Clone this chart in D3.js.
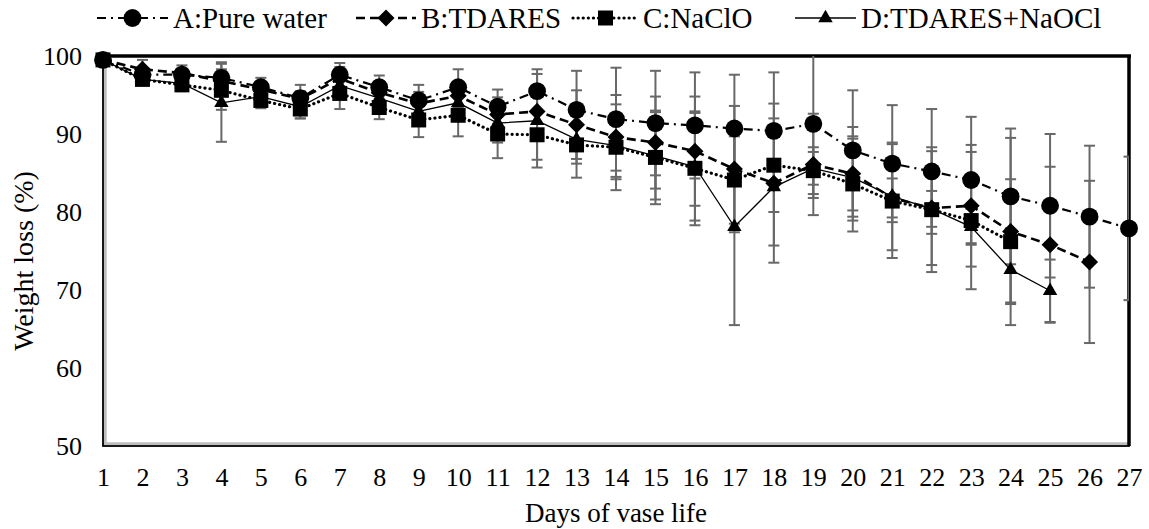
<!DOCTYPE html>
<html>
<head>
<meta charset="utf-8">
<script src="https://cdn.jsdelivr.net/npm/d3@7"></script>
<style>
  body { margin: 0; background: #fff; }
  svg text { font-family: "Liberation Serif", "Times New Roman", serif; fill: #000; }
</style>
</head>
<body>
<svg id="chart" width="1149" height="529"></svg>
<script>
const days = d3.range(1, 28);
const yTicks = [50, 60, 70, 80, 90, 100];

const seriesNames = ['A:Pure water', 'B:TDARES', 'C:NaClO', 'D:TDARES+NaOCl'];

const valuesA = [99.5, 97.6, 97.6, 97.2, 96.0, 94.6, 97.6, 96.0, 94.3, 96.0, 93.5, 95.5, 93.1, 91.9, 91.4, 91.1, 90.7, 90.4, 91.3, 87.9, 86.2, 85.2, 84.1, 82.0, 80.8, 79.4, 77.9];
const valuesB = [99.5, 98.3, 97.8, 96.8, 95.7, 94.5, 97.1, 95.3, 93.9, 94.9, 92.5, 92.9, 91.2, 89.6, 88.9, 87.8, 85.5, 83.7, 86.1, 84.9, 81.8, 80.5, 80.8, 77.5, 75.8, 73.6];
const valuesC = [99.5, 97.0, 96.3, 95.6, 94.3, 93.2, 95.2, 93.4, 91.8, 92.4, 90.0, 89.9, 88.6, 88.3, 87.0, 85.6, 84.1, 86.0, 85.3, 83.6, 81.4, 80.3, 78.9, 76.2];
const valuesD = [99.5, 97.0, 96.5, 94.0, 94.8, 93.5, 96.2, 94.6, 92.9, 94.0, 91.4, 91.7, 89.3, 88.5, 87.2, 85.8, 78.1, 83.2, 85.6, 84.4, 82.0, 80.4, 78.1, 72.6, 69.9];

const errA = [0.3, 0.8, 0.8, 2.0, 1.2, 1.7, 1.5, 1.5, 2.0, 2.3, 2.2, 2.8, 5.0, 6.6, 6.7, 6.8, 6.9, 7.5, 9.5, 7.7, 7.5, 8.0, 8.1, 8.7, 9.2, 9.1, 9.2];
const errB = [0.3, 1.2, 1.0, 1.5, 1.0, 1.0, 1.5, 1.5, 1.5, 1.5, 2.2, 2.5, 4.4, 5.4, 5.9, 7.0, 8.1, 10.2, 6.5, 6.0, 2.5, 7.3, 7.8, 12.0, 10.0, 10.4];
const errC = [0.3, 0.6, 0.8, 2.5, 1.0, 1.2, 2.0, 1.5, 2.2, 2.7, 3.1, 3.2, 4.2, 5.5, 6.0, 7.3, 5.6, 6.0, 3.0, 6.1, 7.3, 8.0, 8.8, 8.0];
const errD = [0.3, 0.6, 0.8, 5.0, 1.0, 1.5, 1.2, 1.5, 1.6, 2.0, 2.5, 6.0, 3.1, 4.0, 5.6, 6.9, 12.6, 7.5, 2.1, 5.0, 6.9, 2.3, 2.3, 4.2, 4.0];

// line look per series (Excel-like dash styles)
const styles = [
  {values: valuesA, err: errA, dash: '9,5,2,5', width: 2.2, marker: 'circle'},
  {values: valuesB, err: errB, dash: '9,5', width: 2.6, marker: 'diamond'},
  {values: valuesC, err: errC, dash: '0.1,5', width: 3.2, cap: 'round', marker: 'square'},
  {values: valuesD, err: errD, dash: null, width: 1.3, marker: 'triangle'}
];

const margin = {top: 56, right: 20, bottom: 83, left: 103};
const width = 1149, height = 529;
const innerW = width - margin.left - margin.right;
const innerH = height - margin.top - margin.bottom;

const svg = d3.select('#chart');

const x = d3.scalePoint()
  .domain(days)
  .range([0, innerW]);

const y = d3.scaleLinear()
  .domain([50, 100])
  .range([innerH, 0]);

const g = svg.append('g')
  .attr('transform', `translate(${margin.left},${margin.top})`);

g.append('defs').append('clipPath')
  .attr('id', 'plot-clip')
  .append('rect')
  .attr('width', innerW)
  .attr('height', innerH);

// axes (labels only, Excel style without tick marks)
const yAxis = g.append('g')
  .call(d3.axisLeft(y).tickValues(yTicks).tickSize(0).tickPadding(21));
yAxis.select('.domain').remove();
yAxis.selectAll('text').attr('font-size', 26).attr('font-family', 'Liberation Serif');

const xAxis = g.append('g')
  .attr('transform', `translate(0,${innerH})`)
  .call(d3.axisBottom(x).tickSize(0).tickPadding(22));
xAxis.select('.domain').remove();
xAxis.selectAll('text').attr('font-size', 26).attr('font-family', 'Liberation Serif');

// frame: grey axis lines inside a black border
g.append('line')
  .attr('x1', 2.2).attr('x2', 2.2).attr('y1', 0).attr('y2', innerH)
  .attr('stroke', '#bdbdbd').attr('stroke-width', 3);
g.append('line')
  .attr('x1', 0).attr('x2', innerW).attr('y1', innerH - 2.2).attr('y2', innerH - 2.2)
  .attr('stroke', '#bdbdbd').attr('stroke-width', 3);
g.append('rect')
  .attr('width', innerW)
  .attr('height', innerH)
  .attr('fill', 'none')
  .attr('stroke', '#000')
  .attr('stroke-width', 1.8);
g.append('line')
  .attr('x1', 0).attr('x2', innerW + 2).attr('y1', 0).attr('y2', 0)
  .attr('stroke', '#000').attr('stroke-width', 3.5);
g.append('line')
  .attr('x1', innerW).attr('x2', innerW).attr('y1', 0).attr('y2', innerH)
  .attr('stroke', '#000').attr('stroke-width', 3.5);

const bars = g.append('g').attr('clip-path', 'url(#plot-clip)');
const plot = g.append('g');

// error bars, cut at the plot frame
styles.forEach(s => {
  const eb = bars.append('g')
    .attr('stroke', '#686868')
    .attr('stroke-width', 2)
    .selectAll('g')
    .data(s.values.map((v, i) => ({day: days[i], v, e: s.err[i]})))
    .join('g');
  eb.append('line')
    .attr('x1', d => x(d.day)).attr('x2', d => x(d.day))
    .attr('y1', d => y(d.v + d.e)).attr('y2', d => y(d.v - d.e));
  eb.append('line')
    .attr('x1', d => x(d.day) - 5.5).attr('x2', d => x(d.day) + 5.5)
    .attr('y1', d => y(d.v + d.e)).attr('y2', d => y(d.v + d.e));
  eb.append('line')
    .attr('x1', d => x(d.day) - 5.5).attr('x2', d => x(d.day) + 5.5)
    .attr('y1', d => y(d.v - d.e)).attr('y2', d => y(d.v - d.e));
});

const markerPath = (type) => {
  if (type === 'circle') return d3.symbol(d3.symbolCircle, 250)();
  if (type === 'square') return d3.symbol(d3.symbolSquare, 225)();
  if (type === 'diamond') return d3.symbol(d3.symbolSquare, 145)();
  return d3.symbol(d3.symbolTriangle, 90)();
};
const markerRotate = (type) => type === 'diamond' ? ' rotate(45)' : '';

const line = d3.line()
  .x((d, i) => x(days[i]))
  .y(d => y(d));

styles.forEach(s => {
  const path = plot.append('path')
    .datum(s.values)
    .attr('d', line)
    .attr('fill', 'none')
    .attr('stroke', '#000')
    .attr('stroke-width', s.width)
    .attr('stroke-linecap', s.cap || 'butt');
  if (s.dash) path.attr('stroke-dasharray', s.dash);

  plot.append('g')
    .selectAll('path')
    .data(s.values)
    .join('path')
    .attr('d', markerPath(s.marker))
    .attr('transform', (d, i) => `translate(${x(days[i])},${y(d)})` + markerRotate(s.marker))
    .attr('fill', '#000');
});

// axis titles
svg.append('text')
  .attr('transform', `translate(33,${margin.top + innerH / 2 + 10}) rotate(-90)`)
  .attr('text-anchor', 'middle')
  .attr('font-size', 28)
  .text('Weight loss (%)');

svg.append('text')
  .attr('x', margin.left + innerW / 2)
  .attr('y', 522)
  .attr('text-anchor', 'middle')
  .attr('font-size', 27)
  .text('Days of vase life');

// legend
const legendX = [97, 356, 573, 795];
const legendLen = [71, 60, 65, 61];
const legend = svg.append('g').attr('transform', 'translate(0,18)');
styles.forEach((s, i) => {
  const item = legend.append('g').attr('transform', `translate(${legendX[i]},0)`);
  const l = item.append('line')
    .attr('x1', 0).attr('x2', legendLen[i])
    .attr('stroke', '#000')
    .attr('stroke-width', s.width)
    .attr('stroke-linecap', s.cap || 'butt');
  if (s.dash) l.attr('stroke-dasharray', s.dash);
  item.append('path')
    .attr('d', markerPath(s.marker))
    .attr('transform', `translate(${legendLen[i] / 2},0)` + markerRotate(s.marker))
    .attr('fill', '#000');
  item.append('text')
    .attr('x', legendLen[i] + 5)
    .attr('y', 10)
    .attr('font-size', 29)
    .text(seriesNames[i]);
});
</script>
</body>
</html>
